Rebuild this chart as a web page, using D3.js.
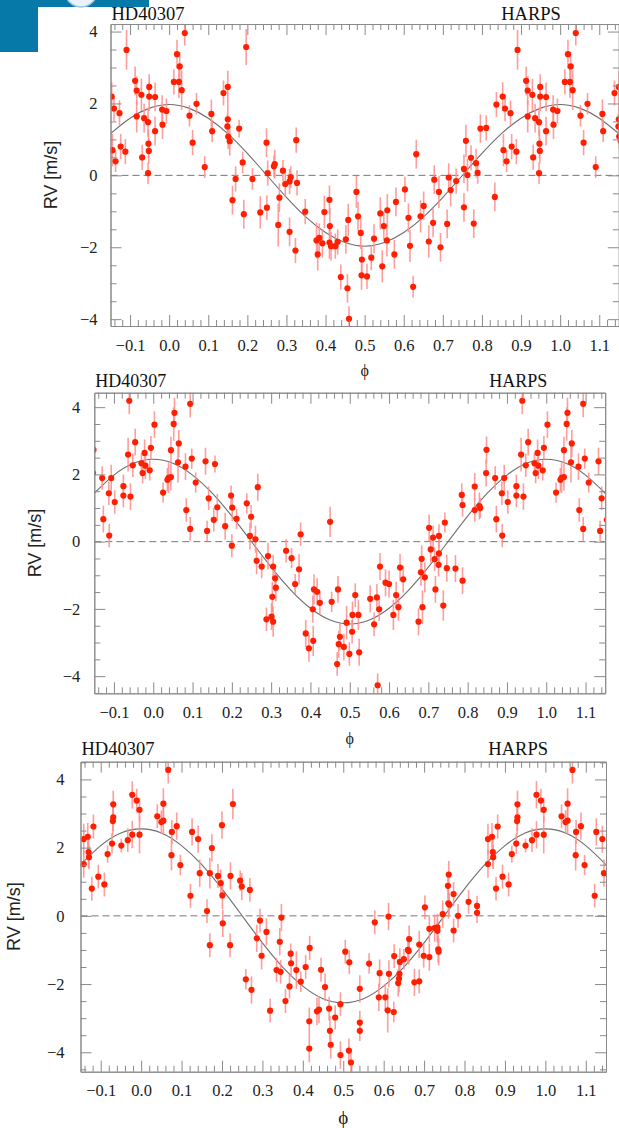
<!DOCTYPE html>
<html>
<head>
<meta charset="utf-8">
<script src="https://cdn.jsdelivr.net/npm/d3@7"></script>
<style>
  body { margin: 0; background: #fff; }
  svg { display: block; }
</style>
</head>
<body>
<div id="chart"></div>
<script>
// phase-folded radial velocities of HD40307 (HARPS), [phase, rv m/s, error m/s]
var rvSet1 = [
  [0.012,2.60,0.35],[0.020,3.37,0.40],[0.025,2.60,0.45],[0.027,3.03,0.40],[0.032,2.37,0.55],[0.040,3.96,0.35],
  [0.052,1.66,0.30],[0.060,0.91,0.35],[0.070,1.99,0.30],[0.091,0.23,0.30],[0.108,1.71,0.40],[0.110,1.23,0.30],
  [0.139,2.29,0.35],[0.150,2.46,0.45],[0.150,1.56,0.45],[0.149,1.36,0.35],[0.151,1.08,0.35],[0.155,0.95,0.40],
  [0.179,1.30,0.25],[0.188,0.36,0.30],[0.197,3.57,0.50],[0.170,-0.10,0.35],[0.213,-0.10,0.30],[0.249,0.91,0.40],
  [0.252,0.06,0.35],[0.268,0.25,0.30],[0.270,0.31,0.40],[0.291,0.13,0.30],[0.297,-0.24,0.35],[0.308,-0.17,0.35],
  [0.311,-0.05,0.30],[0.327,-0.21,0.35],[0.325,0.98,0.35],[0.162,-0.69,0.40],[0.282,-0.62,0.40],[0.191,-1.08,0.40],
  [0.233,-1.03,0.45],[0.250,-0.90,0.35],[0.279,-1.38,0.60],[0.308,-1.57,0.40],[0.323,-2.09,0.35],[0.348,-1.01,0.35],
  [0.397,-1.02,0.45],[0.377,-1.81,0.50],[0.380,-2.20,0.45],[0.384,-1.74,0.40],[0.392,-1.89,0.40],[0.410,-0.68,0.40],
  [0.411,-1.41,0.50],[0.410,-1.87,0.45],[0.414,-1.97,0.40],[0.425,-1.97,0.35],[0.431,-1.85,0.35],[0.439,-2.83,0.35],
  [0.452,-1.78,0.40],[0.458,-1.24,0.45],[0.456,-3.14,0.40],[0.460,-3.99,0.35],[0.479,-0.46,0.45],[0.483,-1.14,0.40],
  [0.490,-1.60,0.45],[0.493,-2.34,0.40],[0.492,-2.78,0.40],[0.506,-2.81,0.35],[0.517,-2.29,0.35],[0.524,-1.76,0.40],
  [0.540,-1.06,0.45],[0.549,-1.41,0.40],[0.545,-2.53,0.45],[0.558,-0.97,0.45],[0.557,-1.81,0.45],[0.576,-2.20,0.40],
  [0.580,-0.74,0.40],[0.603,-0.39,0.35],[0.612,-1.18,0.40],[0.616,-1.96,0.45],[0.624,-3.10,0.30],[0.632,0.59,0.40],
  [0.643,-1.14,0.45],[0.651,-0.85,0.40],[0.664,-1.84,0.45],[0.675,-1.32,0.40],[0.678,-0.12,0.40],[0.690,-0.46,0.45],
  [0.694,-2.00,0.40],[0.711,-1.35,0.40],[0.715,-0.06,0.40],[0.720,-0.41,0.45],[0.734,-0.16,0.35],[0.754,0.18,0.40],
  [0.754,-0.89,0.40],[0.759,0.96,0.45],[0.763,0.01,0.45],[0.772,0.49,0.35],[0.779,-1.34,0.40],[0.785,0.34,0.40],
  [0.789,0.07,0.30],[0.796,1.30,0.40],[0.811,1.32,0.35],[0.833,-0.60,0.40],[0.837,1.97,0.35],
  [0.853,2.19,0.40],[0.855,0.70,0.45],[0.859,1.86,0.35],[0.863,0.39,0.30],[0.873,1.73,0.35],[0.876,0.80,0.35],
  [0.888,0.66,0.35],[0.891,3.49,0.55],[0.913,2.63,0.40],[0.917,1.64,0.45],[0.917,2.36,0.40],[0.929,2.24,0.45],
  [0.931,0.50,0.35],[0.936,1.59,0.40],[0.946,1.48,0.40],[0.947,0.88,0.40],[0.948,0.68,0.35],[0.946,0.06,0.30],
  [0.949,2.46,0.35],[0.949,2.19,0.40],[0.964,2.18,0.40],[0.964,1.23,0.40],[0.982,1.83,0.40],[0.983,1.41,0.40],
  [0.993,1.79,0.35]
];

var rvSet2 = [
  [0.003,3.48,0.40],[0.025,1.46,0.30],[0.036,1.84,0.35],[0.039,1.90,0.45],[0.045,1.92,0.40],[0.045,2.72,0.40],
  [0.052,3.50,0.50],[0.054,3.83,0.45],[0.065,2.92,0.40],[0.063,2.36,0.60],[0.084,0.94,0.35],[0.082,2.23,0.40],
  [0.094,4.10,0.40],[0.094,0.38,0.35],[0.098,2.47,0.30],[0.108,1.76,0.30],[0.133,2.39,0.40],[0.137,0.32,0.30],
  [0.141,1.29,0.35],[0.157,2.31,0.25],[0.154,0.65,0.35],[0.163,1.02,0.40],[0.183,0.46,0.40],[0.198,1.37,0.30],
  [0.201,1.01,0.40],[0.200,-0.12,0.35],[0.212,0.68,0.30],[0.238,1.14,0.30],[0.249,0.74,0.35],[0.246,0.17,0.40],
  [0.260,0.07,0.40],[0.266,1.62,0.40],[0.263,-0.57,0.40],[0.276,-0.74,0.35],[0.292,-0.43,0.40],[0.305,-0.74,0.35],
  [0.310,-1.09,0.40],[0.312,-1.37,0.40],[0.303,-1.64,0.45],[0.288,-2.31,0.35],[0.301,-2.23,0.40],[0.305,-2.38,0.45],
  [0.338,-0.27,0.35],[0.352,-0.49,0.30],[0.361,-1.26,0.30],[0.371,-0.82,0.45],[0.375,0.22,0.35],[0.388,-2.73,0.40],
  [0.396,-3.17,0.40],[0.406,-2.01,0.40],[0.407,-2.95,0.45],[0.409,-1.42,0.45],[0.417,-1.49,0.40],[0.424,-1.82,0.35],
  [0.450,0.59,0.45],[0.454,-1.79,0.30],[0.468,-3.64,0.35],[0.470,-1.42,0.40],[0.472,-3.05,0.40],[0.475,-2.83,0.40],
  [0.485,-3.13,0.40],[0.492,-2.41,0.50],[0.499,-3.34,0.35],[0.506,-2.68,0.35],[0.507,-2.18,0.40],[0.514,-1.59,0.35],
  [0.522,-2.18,0.45],[0.524,-3.29,0.40],[0.552,-1.70,0.40],[0.562,-2.46,0.35],[0.569,-1.66,0.40],[0.571,-4.27,0.35],
  [0.575,-2.01,0.35],[0.577,-0.74,0.40],[0.591,-1.22,0.40],[0.600,-1.26,0.40],[0.611,-2.18,0.45],[0.618,-1.59,0.40],
  [0.624,-1.95,0.40],[0.628,-0.77,0.40],[0.636,-1.12,0.40],[0.675,-2.38,0.40],[0.681,-0.91,0.40],[0.683,-0.51,0.40],
  [0.685,-1.95,0.50],[0.691,-1.06,0.45],[0.702,0.41,0.40],[0.706,-0.23,0.40],[0.712,0.12,0.35],[0.716,-0.52,0.35],
  [0.718,-1.42,0.40],[0.726,-0.69,0.35],[0.727,0.17,0.35],[0.727,-0.35,0.40],[0.738,-1.90,0.45],[0.742,0.57,0.30],
  [0.747,-0.79,0.40],[0.769,-0.80,0.40],[0.785,1.39,0.35],[0.787,1.09,0.35],[0.787,-1.16,0.40],[0.818,1.64,0.40],
  [0.818,0.94,0.35],[0.830,1.06,0.40],[0.832,1.00,0.30],[0.847,2.04,0.40],[0.848,2.73,0.40],
  [0.870,1.89,0.35],[0.873,0.67,0.40],[0.887,1.44,0.35],[0.888,0.18,0.35],[0.893,1.89,0.40],[0.902,1.18,0.35],
  [0.924,1.65,0.35],[0.924,1.37,0.35],[0.936,2.59,0.50],[0.939,4.19,0.40],[0.942,1.34,0.40],[0.948,2.27,0.35],
  [0.954,2.96,0.40],[0.970,2.33,0.30],[0.973,2.04,0.30],[0.978,2.64,0.40],[0.980,2.26,0.40],[0.991,2.12,0.30],
  [0.994,2.79,0.35]
];

var rvSet3 = [
  [0.040,2.92,0.35],[0.050,2.75,0.35],[0.055,2.79,0.40],[0.055,3.29,0.45],[0.067,4.28,0.40],[0.076,2.46,0.35],
  [0.075,1.78,0.45],[0.088,2.63,0.40],[0.097,1.49,0.30],[0.122,0.59,0.35],[0.126,2.46,0.40],[0.141,2.25,0.40],
  [0.145,1.25,0.40],[0.163,0.14,0.35],[0.170,1.25,0.45],[0.170,-0.86,0.35],[0.175,1.99,0.40],[0.190,1.17,0.35],
  [0.197,0.96,0.40],[0.200,2.66,0.40],[0.202,-0.22,0.40],[0.201,0.60,0.40],[0.220,-0.86,0.35],[0.221,1.17,0.40],
  [0.227,3.28,0.45],[0.245,1.03,0.30],[0.249,0.86,0.40],[0.259,-1.86,0.30],[0.269,0.76,0.35],[0.273,-2.17,0.40],
  [0.286,-0.66,0.40],[0.294,-0.14,0.35],[0.298,-1.17,0.40],[0.310,-0.47,0.40],[0.319,-2.78,0.35],[0.335,-1.59,0.35],
  [0.343,-0.76,0.40],[0.345,-1.64,0.35],[0.347,-0.05,0.40],[0.357,-2.50,0.35],[0.367,-2.07,0.35],[0.370,-1.11,0.30],
  [0.371,-1.39,0.40],[0.384,-1.59,0.55],[0.395,-1.93,0.30],[0.407,-1.50,0.35],[0.417,-0.94,0.35],[0.416,-3.09,0.40],
  [0.416,-3.89,0.40],[0.435,-2.80,0.40],[0.440,-2.75,0.40],[0.445,-1.58,0.35],[0.455,-2.09,0.40],[0.465,-2.72,0.35],
  [0.467,-3.37,0.45],[0.469,-3.78,0.40],[0.480,-2.98,0.35],[0.493,-2.59,0.35],[0.493,-4.08,0.40],[0.505,-1.05,0.35],
  [0.515,-1.36,0.35],[0.514,-3.95,0.35],[0.519,-4.30,0.30],[0.541,-2.14,0.40],[0.541,-3.13,0.35],[0.541,-3.37,0.30],
  [0.564,-1.40,0.30],[0.578,-0.19,0.35],[0.588,-2.39,0.40],[0.590,-1.68,0.40],[0.604,-2.39,0.40],[0.610,-2.77,0.65],
  [0.612,-0.02,0.40],[0.613,-1.70,0.40],[0.625,-2.82,0.30],[0.626,-1.18,0.35],[0.636,-1.97,0.40],[0.638,-1.84,0.40],
  [0.639,-1.70,0.40],[0.640,-1.35,0.40],[0.650,-1.27,0.30],[0.660,-1.00,0.40],[0.663,-0.68,0.40],[0.662,-1.03,0.40],
  [0.676,-1.95,0.40],[0.688,-1.92,0.35],[0.688,-0.84,0.40],[0.699,-1.17,0.35],[0.702,0.25,0.35],[0.713,-1.21,0.40],
  [0.713,-0.38,0.40],[0.726,-0.36,0.40],[0.733,-0.34,0.40],[0.733,-0.44,0.35],[0.735,-0.98,0.40],[0.736,-1.05,0.40],
  [0.746,0.05,0.40],[0.759,0.88,0.40],[0.761,1.21,0.40],[0.760,0.37,0.45],[0.762,0.33,0.35],[0.773,0.64,0.35],
  [0.773,-0.43,0.35],[0.784,0.00,0.35],[0.810,0.41,0.35],[0.831,0.29,0.30],[0.831,0.09,0.30],
  [0.858,1.52,0.40],[0.858,2.25,0.45],[0.868,2.32,0.40],[0.870,1.87,0.45],[0.871,1.72,0.35],[0.878,0.80,0.35],
  [0.882,2.62,0.35],[0.894,1.15,0.35],[0.909,0.92,0.35],[0.917,1.81,0.25],[0.928,2.12,0.30],[0.930,2.78,0.40],
  [0.931,2.89,0.40],[0.931,3.27,0.40],[0.951,2.06,0.20],[0.967,2.22,0.35],[0.978,2.38,0.40],[0.978,3.55,0.40],
  [0.989,3.38,0.35],[0.996,3.11,0.35],[0.996,2.38,0.55]
];

// fitted orbit, every 0.05 in phase
var fitPhase = [-0.15,-0.10,-0.05,0.00,0.05,0.10,0.15,0.20,0.25,0.30,0.35,0.40,0.45,0.50,
                0.55,0.60,0.65,0.70,0.75,0.80,0.85,0.90,0.95,1.00,1.05,1.10,1.15];
var fit1 = [1.16,1.59,1.87,1.97,1.87,1.59,1.16,0.61,0.00,-0.61,-1.16,-1.59,-1.87,-1.97,
            -1.87,-1.59,-1.16,-0.61,0.00,0.61,1.16,1.59,1.87,1.97,1.87,1.59,1.16];
var fit2 = [1.44,1.98,2.33,2.45,2.33,1.98,1.44,0.76,0.00,-0.76,-1.44,-1.98,-2.33,-2.45,
            -2.33,-1.98,-1.44,-0.76,0.00,0.76,1.44,1.98,2.33,2.45,2.33,1.98,1.44];
var fit3 = [1.50,2.06,2.43,2.55,2.43,2.06,1.50,0.79,0.00,-0.79,-1.50,-2.06,-2.43,-2.55,
            -2.43,-2.06,-1.50,-0.79,0.00,0.79,1.50,2.06,2.43,2.55,2.43,2.06,1.50];

// tick labels
var xTickValues = [-0.1,0.0,0.1,0.2,0.3,0.4,0.5,0.6,0.7,0.8,0.9,1.0,1.1];
var yTickValues = [-4,-2,0,2,4];

var starLabel = "HD40307";
var instrumentLabel = "HARPS";
var xAxisLabel = "\u03d5";
var yAxisLabel = "RV [m/s]";

// layout of the three stacked panels
var panels = [
  { id: 1, points: rvSet1, fit: fit1, left: 110.5, right: 618.8, top: 24, bottom: 326,
    yDomain: [-4.19, 4.21], yPad: 13, xLabelY: 370, xLabelSize: 16, yLabelX: 57, titleY: 20, titleSize: 18.5 },
  { id: 2, points: rvSet2, fit: fit2, left: 94.3, right: 605.2, top: 392.7, bottom: 693.3,
    yDomain: [-4.51, 4.43], yPad: 14, xLabelY: 738, xLabelSize: 16, yLabelX: 41, titleY: 387, titleSize: 18 },
  { id: 3, points: rvSet3, fit: fit3, left: 80.5, right: 606, top: 761.7, bottom: 1071.7,
    yDomain: [-4.57, 4.52], yPad: 16, xLabelY: 1117, xLabelSize: 19, yLabelX: 20, titleY: 755, titleSize: 18.5 }
];

var width = 619, height = 1128;
var axisColor = "#8a8a8a";
var serif = "'Liberation Serif', 'DejaVu Serif', 'Times New Roman', serif";

var svg = d3.select("#chart")
  .append("svg")
    .attr("width", width)
    .attr("height", height);

svg.append("rect").attr("width", width).attr("height", height).attr("fill", "#fff");

// corner of the slide logo showing at the top left
svg.append("rect").attr("x", 0).attr("y", 0).attr("width", 38).attr("height", 52).attr("fill", "#0779a8");
svg.append("rect").attr("x", 38).attr("y", 0).attr("width", 111).attr("height", 7).attr("fill", "#0779a8");
svg.append("circle").attr("cx", 81).attr("cy", -9).attr("r", 16)
  .attr("fill", "#e8f2f8").attr("stroke", "#9cc3da").attr("stroke-width", 1.5);

function styleAxis(sel) {
  sel.attr("font-family", serif).attr("font-size", 16.5);
  sel.select(".domain").attr("stroke", axisColor);
  sel.selectAll(".tick line").attr("stroke", axisColor);
  sel.selectAll(".tick text")
    .attr("fill", "#222")
    .style("font-family", serif)
    .style("font-size", "16.5px");
}

function drawPanel(p) {
  var x = d3.scaleLinear().domain([-0.15, 1.15]).range([p.left, p.right]);
  var y = d3.scaleLinear().domain(p.yDomain).range([p.bottom, p.top]);

  var g = svg.append("g");

  var clipId = "plotclip" + p.id;
  svg.append("clipPath").attr("id", clipId)
    .append("rect")
      .attr("x", p.left).attr("y", p.top)
      .attr("width", p.right - p.left).attr("height", p.bottom - p.top);

  var plot = g.append("g").attr("clip-path", "url(#" + clipId + ")");

  // zero line
  plot.append("line")
    .attr("x1", p.left).attr("x2", p.right)
    .attr("y1", y(0)).attr("y2", y(0))
    .attr("stroke", "#777")
    .attr("stroke-width", 1)
    .attr("stroke-dasharray", "7,4");

  // fitted curve
  plot.append("path")
    .datum(d3.zip(fitPhase, p.fit))
    .attr("fill", "none")
    .attr("stroke", "#6e6e6e")
    .attr("stroke-width", 1.1)
    .attr("d", d3.line()
      .x(function(d) { return x(d[0]); })
      .y(function(d) { return y(d[1]); })
      .curve(d3.curveNatural));

  // each phase point is repeated one cycle earlier and later
  var shown = [];
  p.points.forEach(function(d) {
    [-1, 0, 1].forEach(function(k) {
      var ph = d[0] + k;
      if (ph >= -0.16 && ph <= 1.16) shown.push([ph, d[1], d[2]]);
    });
  });

  plot.selectAll(".err")
    .data(shown)
    .enter().append("line")
      .attr("class", "err")
      .attr("x1", function(d) { return x(d[0]); })
      .attr("x2", function(d) { return x(d[0]); })
      .attr("y1", function(d) { return y(d[1] - d[2]); })
      .attr("y2", function(d) { return y(d[1] + d[2]); })
      .attr("stroke", "#ff8c8c")
      .attr("stroke-opacity", 0.85)
      .attr("stroke-width", 1.6);

  plot.selectAll(".dot")
    .data(shown)
    .enter().append("circle")
      .attr("class", "dot")
      .attr("cx", function(d) { return x(d[0]); })
      .attr("cy", function(d) { return y(d[1]); })
      .attr("r", 3.1)
      .attr("fill", "#ff1f00");

  // minor ticks
  var xMinor = d3.range(-7, 58).map(function(i) { return i * 0.02; })
    .filter(function(v) { return Math.abs(v * 10 - Math.round(v * 10)) > 1e-6; });
  var yMinor = d3.range(-9, 10).map(function(i) { return i * 0.5; })
    .filter(function(v) { return v > p.yDomain[0] && v < p.yDomain[1] && v % 2 !== 0; });

  // bottom and top axes
  g.append("g")
    .attr("transform", "translate(0," + p.bottom + ")")
    .call(d3.axisBottom(x).tickValues(xTickValues).tickSize(-11).tickSizeOuter(0).tickPadding(13)
      .tickFormat(d3.format(".1f")))
    .call(styleAxis);
  g.append("g")
    .attr("transform", "translate(0," + p.bottom + ")")
    .call(d3.axisBottom(x).tickValues(xMinor).tickSize(-6).tickSizeOuter(0).tickFormat(""))
    .call(styleAxis);
  g.append("g")
    .attr("transform", "translate(0," + p.top + ")")
    .call(d3.axisTop(x).tickValues(xTickValues).tickSize(-11).tickSizeOuter(0).tickFormat(""))
    .call(styleAxis);
  g.append("g")
    .attr("transform", "translate(0," + p.top + ")")
    .call(d3.axisTop(x).tickValues(xMinor).tickSize(-6).tickSizeOuter(0).tickFormat(""))
    .call(styleAxis);

  // left and right axes
  g.append("g")
    .attr("transform", "translate(" + p.left + ",0)")
    .call(d3.axisLeft(y).tickValues(yTickValues).tickSize(-11).tickSizeOuter(0).tickPadding(p.yPad)
      .tickFormat(d3.format("d")))
    .call(styleAxis);
  g.append("g")
    .attr("transform", "translate(" + p.left + ",0)")
    .call(d3.axisLeft(y).tickValues(yMinor).tickSize(-6).tickSizeOuter(0).tickFormat(""))
    .call(styleAxis);
  g.append("g")
    .attr("transform", "translate(" + p.right + ",0)")
    .call(d3.axisRight(y).tickValues(yTickValues).tickSize(-11).tickSizeOuter(0).tickFormat(""))
    .call(styleAxis);
  g.append("g")
    .attr("transform", "translate(" + p.right + ",0)")
    .call(d3.axisRight(y).tickValues(yMinor).tickSize(-6).tickSizeOuter(0).tickFormat(""))
    .call(styleAxis);

  // titles above the box
  g.append("text")
    .attr("x", p.left + 1)
    .attr("y", p.titleY)
    .attr("font-family", serif)
    .attr("font-size", p.titleSize)
    .attr("fill", "#111")
    .text(starLabel);
  g.append("text")
    .attr("x", p.right - 58)
    .attr("y", p.titleY)
    .attr("text-anchor", "end")
    .attr("font-family", serif)
    .attr("font-size", p.titleSize)
    .attr("fill", "#111")
    .text(instrumentLabel);

  // axis labels
  g.append("text")
    .attr("x", (p.left + p.right) / 2)
    .attr("y", p.xLabelY)
    .attr("text-anchor", "middle")
    .attr("dominant-baseline", "central")
    .attr("font-family", serif)
    .attr("font-size", p.xLabelSize)
    .attr("fill", "#222")
    .text(xAxisLabel);
  g.append("text")
    .attr("transform", "translate(" + p.yLabelX + "," + ((p.top + p.bottom) / 2) + ") rotate(-90)")
    .attr("text-anchor", "middle")
    .attr("font-family", "'Liberation Sans', Arial, sans-serif")
    .attr("font-size", 18)
    .attr("fill", "#222")
    .text(yAxisLabel);
}

panels.forEach(drawPanel);
</script>
</body>
</html>
